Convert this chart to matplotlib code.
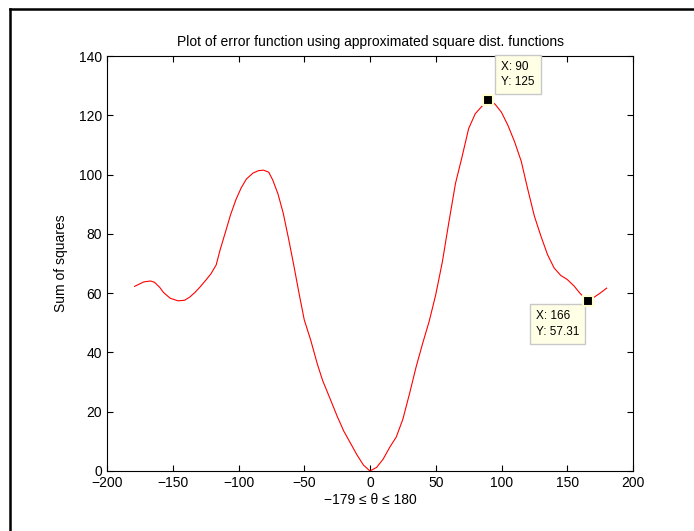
import numpy as np
import matplotlib
matplotlib.use("Agg")
import matplotlib.pyplot as plt
from matplotlib.lines import Line2D

plt.rcParams['font.family'] = ['Liberation Sans', 'DejaVu Sans']

# angle (deg) and sum of squares
theta = [-179, -172, -167, -164, -160, -157, -152, -146, -141, -137, -133, -129,
         -125, -121, -117, -114, -110, -106, -102, -98, -94, -89, -85, -81, -77,
         -74, -70, -66, -62, -58, -54, -50, -45, -40, -36, -30, -25, -20, -15,
         -10, -5, 0, 5, 10, 15, 20, 25, 30, 35, 40, 45, 50, 55, 60, 65, 70, 75,
         80, 85, 90, 95, 100, 105, 110, 115, 120, 125, 130, 135, 140, 145, 150,
         155, 160, 166, 170, 175, 180]
err = [62.3, 63.8, 64.1, 63.7, 62.0, 60.2, 58.3, 57.4, 57.6, 58.7, 60.3, 62.2,
       64.3, 66.5, 69.5, 74.6, 80.5, 86.5, 91.5, 95.5, 98.5, 100.5, 101.3, 101.5,
       100.8, 98.2, 93.5, 87, 78.5, 69.5, 60, 51, 44, 36, 30.5, 24, 18.5, 13.5,
       9.5, 5.5, 2, 0, 1.2, 4, 8, 11.5, 17.5, 26, 35, 43, 50.5, 59.5, 70.5, 84,
       97, 106, 115.5, 120.5, 123, 125, 123.8, 121, 116.5, 111, 104.5, 95, 86,
       79.2, 73, 68.5, 66, 64.6, 62.5, 59.8, 57.31, 58.5, 60, 61.7]

# data tips
tip_x = [90, 166]
tip_y = [125, 57.31]
tip_lbl = ["X: 90\nY: 125", "X: 166\nY: 57.31"]

fig = plt.figure(figsize=(6.94, 5.31), dpi=100)
ax = fig.add_axes([0.1542, 0.1130, 0.7579, 0.7815])

ax.plot(theta, err, color='red', lw=0.8)
ax.plot(tip_x, tip_y, 's', color='black', ms=7, mec='#ffffd0', mew=1.5, zorder=7)

box = dict(boxstyle='square,pad=0.5', fc='#ffffe6', ec='#c8c8c8', lw=1)
ax.annotate(tip_lbl[0], (tip_x[0], tip_y[0]), xytext=(13, 12), textcoords='offset pixels',
            ha='left', va='bottom', multialignment='left', fontsize=8.5,
            linespacing=1.4, bbox=box, annotation_clip=False, zorder=6)
ax.annotate(tip_lbl[1], (tip_x[1], tip_y[1]), xytext=(-9, -9), textcoords='offset pixels',
            ha='right', va='top', multialignment='left', fontsize=8.5,
            linespacing=1.4, bbox=box, annotation_clip=False, zorder=6)

ax.set_xlim(-200, 200)
ax.set_ylim(0, 140)
ax.set_xticks(np.arange(-200, 201, 50))
ax.set_yticks(np.arange(0, 141, 20))
ax.tick_params(direction='in', top=True, right=True, labelsize=10, length=4, width=0.8)
for s in ax.spines.values():
    s.set_linewidth(0.8)

ax.set_title('Plot of error function using approximated square dist. functions', fontsize=10, pad=7)
ax.set_xlabel('\u2212179 \u2264 \u03b8 \u2264 180', fontsize=10, labelpad=2)
ax.set_ylabel('Sum of squares', fontsize=10, labelpad=8)

# outer frame of the screenshot
fig.add_artist(Line2D([10 / 694, 10 / 694], [0, 1 - 9 / 531], color='black', lw=1.8,
                      transform=fig.transFigure))
fig.add_artist(Line2D([10 / 694, 1], [1 - 9 / 531, 1 - 9 / 531], color='black', lw=1.8,
                      transform=fig.transFigure))

fig.savefig('out.png', dpi=100)
